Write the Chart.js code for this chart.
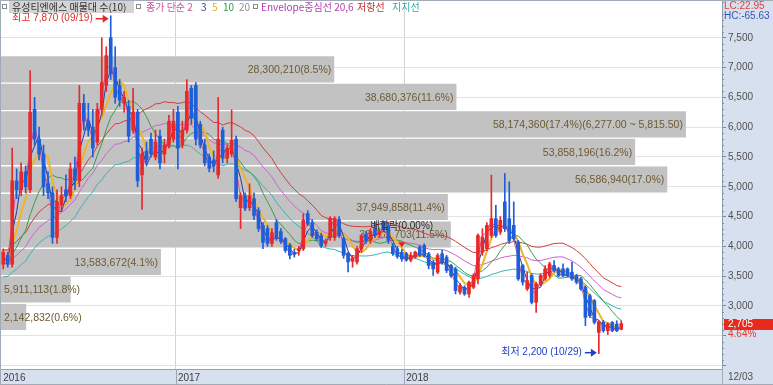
<!DOCTYPE html>
<html><head><meta charset="utf-8">
<script src="https://cdn.jsdelivr.net/npm/chart.js@4.4.1/dist/chart.umd.min.js"></script>
<style>html,body{margin:0;padding:0;background:#fff;overflow:hidden}#wrap{width:773px;height:385px;position:relative}</style>
</head><body><div id="wrap"><canvas id="c" width="773" height="385"></canvas></div>
<script>
// ---------- data ----------
const stockName = '유성티엔에스';
const weekStart = '2016-04-04';
const closedWeeks = ['2017-10-02'];
const slotCount = 161;

const open = [3700,3850,3700,5100,4950,5250,4950,6300,5800,5550,5050,4900,4150,4700,4950,4850,5300,5100,6400,6100,
6000,5750,6300,6700,7500,7000,6700,6400,6350,5950,6250,5200,5600,5800,5500,5850,5550,5700,5800,6250,
5700,5950,6650,6700,6050,5700,5500,5450,5200,5950,5480,5550,5800,4650,4850,4650,4800,4600,4350,4300,
4050,4400,4250,4130,4020,3900,3930,3960,4550,4400,4240,4180,4050,4150,4150,4450,4130,3880,3750,3740,
3960,4200,4100,4300,4200,4400,4350,4000,3960,3900,3880,3770,3820,3990,4016,3876,3735,3567,3876,3820,
3680,3623,3230,3314,3202,3314,3455,3904,3960,4184,4465,4240,4746,4465,4353,4072,3680,3286,3511,3062,
3370,3455,3511,3680,3623,3623,3623,3567,3511,3455,3314,3174,3090,2557,2725,2585,2725,2697,2610];
const high = [3960,3900,5650,5300,5400,5350,6950,6500,6000,5700,5250,5000,4950,5000,5200,5400,5500,6700,6550,6400,
6300,6400,7500,7350,7870,7350,6800,6600,6450,6650,6300,5650,5750,5900,5950,5950,5800,6200,6300,6350,
6100,6800,6700,6750,6100,5800,5550,5600,6500,6000,5700,6290,5850,4900,4900,5050,4900,4650,4400,4350,
4300,4450,4300,4150,4050,3950,4000,4550,4600,4450,4280,4220,4120,4500,4500,4500,4150,3900,3850,4000,
4200,4250,4300,4400,4300,4420,4380,4050,4000,3950,3900,3900,3920,4020,4044,3900,3760,3880,3932,3850,
3700,3650,3380,3340,3420,3540,4210,4297,4400,5195,4690,4500,5223,5083,4746,4100,3700,3567,3540,3400,
3540,3680,3735,3763,3650,3707,3640,3735,3530,3480,3340,3200,3110,2750,2760,2720,2740,2753,2753];
const low = [3620,3650,3650,4800,4850,4900,4900,5700,5450,4850,4800,4050,4050,4600,4750,4800,4950,5000,5950,5850,
5500,5700,6200,6600,6800,6400,6350,6250,5750,5900,5000,4620,5350,5500,5450,5300,5400,5650,5750,5300,
5650,5900,6050,5700,5650,5350,5250,5250,5140,5400,5400,5500,4750,4300,4600,4600,4450,4250,3960,4000,
4000,4100,4050,3900,3790,3820,3850,3930,4350,4150,4100,3980,4000,4100,4100,4150,3800,3570,3650,3700,
3900,4050,4050,4150,4150,4250,4050,3850,3800,3750,3750,3740,3800,3830,3820,3623,3511,3540,3700,3560,
3480,3202,3200,3180,3146,3290,3370,3850,3930,4150,4150,4200,4250,4050,4100,3430,3350,3260,3034,2893,
3340,3430,3480,3570,3490,3490,3490,3430,3370,3260,2669,2810,2697,2200,2560,2520,2570,2570,2600];
const close = [3900,3700,5100,4950,5250,5000,6250,5800,5550,5000,4900,4150,4750,4850,4850,5300,5100,6400,6100,5950,
5650,6300,6750,7200,6900,6500,6450,6500,5850,6250,5100,5550,5450,5550,5750,5400,5700,6100,6100,5650,
5950,6600,6150,5800,5700,5400,5310,5350,5800,5480,5650,5780,4800,4850,4640,4850,4520,4300,4070,4050,
4230,4130,4080,3930,3850,3870,3960,4440,4380,4180,4130,4010,4090,4470,4470,4180,3850,3740,3800,3960,
4180,4100,4250,4200,4250,4300,4100,3880,3830,3790,3770,3850,3904,3850,3848,3679,3623,3848,3735,3595,
3511,3258,3340,3202,3400,3511,4184,4156,4353,4465,4184,4437,4297,4100,4128,3455,3400,3427,3062,3370,
3511,3623,3707,3595,3511,3511,3511,3455,3400,3286,2809,2837,2725,2725,2585,2697,2585,2585,2705];
// estimated closes before the first visible week (implied by the starting level of the averages)
const priorCloses = [3600,3650,3700,3750,3700,3650,3700,3750,3800,3750,3700,3650,3700,3750,3700,3650,3700,3750,3700];

// volume profile (매물대), 10 price bands
const profileVolume = [28300210,38680376,58174360,53858196,56586940,37949858,38205703,13583672,5911113,2142832];
const profileHigh = [7200,6738.5,6277,5815.5,5354,4892.5,4431,3969.5,3508,3046.5];
const profileLow  = [6738.5,6277,5815.5,5354,4892.5,4431,3969.5,3508,3046.5,2585];

const maPeriods = [2,3,5,10];
const envelopePeriod = 20;
const envelopePct = 6;
const dividendWeek = '2017-12-25';
const dividendRate = 0.00;
const gridPrices = [2000,2500,3000,3500,4000,4500,5000,5500,6000,6500,7000,7500];
const labelPrices = [3000,3500,4000,4500,5000,5500,6000,6500,7000,7500];
const lcValue = 22.95, hcValue = -65.63;

// ---------- helpers ----------
const fmtInt = v => String(Math.round(v)).replace(/\B(?=(\d{3})+(?!\d))/g, ',');
const fmtDec = (v, d) => { const s = v.toFixed(d).split('.'); return fmtInt(+s[0]) + '.' + s[1]; };

function buildWeekLabels() {
  const out = [];
  let t = new Date(weekStart + 'T00:00:00Z').getTime();
  while (out.length < open.length) {
    const iso = new Date(t).toISOString().slice(0, 10);
    if (!closedWeeks.includes(iso)) out.push(iso);
    t += 7 * 86400000;
  }
  while (out.length < slotCount) out.push('');
  return out;
}
const weekLabels = buildWeekLabels();
const mmdd = s => s.slice(5, 7) + '/' + s.slice(8, 10);
const isYearStart = i => weekLabels[i] && (i === 0 || (weekLabels[i - 1] && weekLabels[i].slice(0, 4) !== weekLabels[i - 1].slice(0, 4)));

function sma(n) {
  const all = priorCloses.concat(close);
  return close.map((_, i) => {
    const end = priorCloses.length + i;
    let s = 0;
    for (let k = end - n + 1; k <= end; k++) s += all[k];
    return s / n;
  });
}
const env = sma(envelopePeriod);
const envUp = env.map(v => v * (1 + envelopePct / 100));
const envDn = env.map(v => v * (1 - envelopePct / 100));

const UP = '#e8282a', DOWN = '#1f5ed8';
const candleColors = close.map((c, i) => c >= open[i] ? UP : DOWN);
const maColors = {2: '#e0509a', 3: '#2a3a9a', 5: '#f0b428', 10: '#38a048'};
const FONT = "'Liberation Sans', 'Noto Sans CJK KR', sans-serif";
const KFONT = "'Noto Sans CJK KR', 'Liberation Sans', sans-serif";

const volTotal = profileVolume.reduce((a, b) => a + b, 0);
const volMax = Math.max(...profileVolume);

// ---------- datasets ----------
const datasets = [];
datasets.push({
  type: 'bar', label: 'profile', indexAxis: 'y', xAxisID: 'xv', yAxisID: 'yv',
  data: profileVolume.map((v, k) => ({x: v, y: (profileHigh[k] + profileLow[k]) / 2})),
  backgroundColor: '#c2c2c2', borderWidth: 0, barPercentage: 0.95, categoryPercentage: 1, grouped: false, order: 30
});
datasets.push({type: 'line', label: 'envUp', data: envUp, borderColor: '#d23c3c', borderWidth: 1, pointRadius: 0, order: 12, xAxisID: 'x', yAxisID: 'y'});
datasets.push({type: 'line', label: 'envMid', data: env, borderColor: '#d060d8', borderWidth: 1, pointRadius: 0, order: 12, xAxisID: 'x', yAxisID: 'y'});
datasets.push({type: 'line', label: 'envDn', data: envDn, borderColor: '#38b4b4', borderWidth: 1, pointRadius: 0, order: 12, xAxisID: 'x', yAxisID: 'y'});
[10, 5, 3, 2].forEach((p, k) => {
  datasets.push({type: 'line', label: 'MA' + p, data: sma(p), borderColor: maColors[p], borderWidth: p === 5 ? 2 : 1,
    pointRadius: 0, order: 10 - k, xAxisID: 'x', yAxisID: 'y'});
});
datasets.push({type: 'bar', label: 'wick', data: low.map((l, i) => [l, high[i]]), backgroundColor: candleColors,
  barThickness: 1, grouped: false, order: 3, xAxisID: 'x', yAxisID: 'y'});
datasets.push({type: 'bar', label: 'body', data: open.map((o, i) => [o, close[i]]), backgroundColor: candleColors,
  barThickness: 3, minBarLength: 1, grouped: false, order: 2, xAxisID: 'x', yAxisID: 'y'});

// ---------- plugin ----------
function arrow(ctx, x1, x2, y, color) {
  ctx.strokeStyle = color; ctx.fillStyle = color; ctx.lineWidth = 1.5;
  ctx.beginPath(); ctx.moveTo(x1, y); ctx.lineTo(x2 - 4, y); ctx.stroke();
  ctx.beginPath(); ctx.moveTo(x2, y); ctx.lineTo(x2 - 6, y - 4); ctx.lineTo(x2 - 6, y + 4); ctx.closePath(); ctx.fill();
}

const deco = {
  id: 'deco',
  beforeDraw(chart) {
    const ctx = chart.ctx, a = chart.chartArea;
    ctx.save();
    ctx.fillStyle = '#ffffff'; ctx.fillRect(0, 0, 773, 385);
    ctx.fillStyle = '#d6e0ee';
    ctx.fillRect(a.right, 0, 773 - a.right, 385);
    ctx.fillRect(0, a.bottom, 773, 385 - a.bottom);
    ctx.restore();
  },
  afterDatasetDraw(chart, args) {
    if (args.index !== 0) return;
    const ctx = chart.ctx;
    const meta = chart.getDatasetMeta(0);
    ctx.save();
    ctx.font = '10.5px ' + FONT; ctx.fillStyle = '#6e5a32'; ctx.textBaseline = 'middle';
    meta.data.forEach((bar, k) => {
      let t = fmtInt(profileVolume[k]) + '(' + (profileVolume[k] / volTotal * 100).toFixed(1) + '%)';
      if (profileVolume[k] === volMax) t += '(' + fmtDec(profileHigh[k], 2) + ' ~ ' + fmtDec(profileLow[k], 2) + ')';
      const w = ctx.measureText(t).width;
      const left = Math.min(bar.x, bar.base), right = Math.max(bar.x, bar.base);
      if (w + 6 <= right - left) { ctx.textAlign = 'right'; ctx.fillText(t, right - 3, bar.y + 1); }
      else { ctx.textAlign = 'left'; ctx.fillText(t, left + 3, bar.y + 1); }
    });
    ctx.restore();
  },
  afterDatasetsDraw(chart) {
    const ctx = chart.ctx, xs = chart.scales.x, ys = chart.scales.y;
    ctx.save();
    ctx.textBaseline = 'middle';
    const hi = Math.max(...high), lo = Math.min(...low);
    const iH = high.indexOf(hi), iL = low.indexOf(lo);
    const xh = xs.getPixelForValue(iH), yh = ys.getPixelForValue(hi) + 3;
    arrow(ctx, xh - 15, xh - 2, yh, '#e02a2a');
    ctx.font = '10px ' + FONT; ctx.fillStyle = '#e02a2a'; ctx.textAlign = 'right';
    ctx.fillText('최고 ' + fmtInt(hi) + ' (' + mmdd(weekLabels[iH]) + ')', xh - 18, yh);
    const xl = xs.getPixelForValue(iL), yl = ys.getPixelForValue(lo) - 1;
    arrow(ctx, xl - 14, xl - 2, yl, '#2040c8');
    ctx.fillStyle = '#2040c8';
    ctx.fillText('최저 ' + fmtInt(lo) + ' (' + mmdd(weekLabels[iL]) + ')', xl - 17, yl);
    const iD = weekLabels.indexOf(dividendWeek);
    if (iD >= 0) {
      const xd = xs.getPixelForValue(iD), yd = ys.getPixelForValue(high[iD]) - 2;
      ctx.fillStyle = '#e02020';
      ctx.beginPath(); ctx.moveTo(xd, yd); ctx.lineTo(xd - 3.5, yd - 5); ctx.lineTo(xd + 3.5, yd - 5); ctx.closePath(); ctx.fill();
      ctx.fillStyle = '#2a2a2a'; ctx.textAlign = 'center'; ctx.font = '10px ' + FONT;
      ctx.fillText('배합락(' + dividendRate.toFixed(2) + '%)', xd, yd - 21);
    }
    ctx.restore();
  },
  afterDraw(chart) {
    const ctx = chart.ctx, a = chart.chartArea, xs = chart.scales.x, ys = chart.scales.y;
    ctx.save();
    ctx.strokeStyle = '#8090a8'; ctx.lineWidth = 1;
    for (let v = 2000; v <= 8100; v += 100) {
      if (v % 500 === 0) continue;
      const y = Math.round(ys.getPixelForValue(v)) + 0.5;
      ctx.beginPath(); ctx.moveTo(a.right, y); ctx.lineTo(a.right + 2, y); ctx.stroke();
    }
    ctx.strokeStyle = '#a2aab6';
    ctx.beginPath(); ctx.moveTo(0, 0.5); ctx.lineTo(773, 0.5); ctx.stroke();
    ctx.beginPath(); ctx.moveTo(0.5, 0); ctx.lineTo(0.5, 385); ctx.stroke();
    ctx.beginPath(); ctx.moveTo(0, 384.5); ctx.lineTo(773, 384.5); ctx.stroke();
    ctx.beginPath(); ctx.moveTo(a.right + 0.5, a.bottom); ctx.lineTo(a.right + 0.5, 385); ctx.stroke();
    const half = (xs.getPixelForValue(1) - xs.getPixelForValue(0)) / 2;
    ctx.strokeStyle = '#9aa6b8';
    for (let i = 1; i < weekLabels.length; i++) {
      if (!isYearStart(i)) continue;
      const x = Math.round(xs.getPixelForValue(i) - half) + 0.5;
      ctx.beginPath(); ctx.moveTo(x, a.bottom); ctx.lineTo(x, 385); ctx.stroke();
    }
    ctx.font = '10px ' + FONT; ctx.fillStyle = '#505050'; ctx.textBaseline = 'middle'; ctx.textAlign = 'left';
    ctx.fillText(mmdd(weekLabels[open.length - 1]), a.right + 6, 377);
    ctx.fillStyle = '#e04040'; ctx.fillText('LC:' + lcValue.toFixed(2), a.right + 2, 6);
    ctx.fillStyle = '#3355bb'; ctx.fillText('HC:' + hcValue.toFixed(2), a.right + 2, 16);
    const last = close[close.length - 1], prev = close[close.length - 2];
    const yc = ys.getPixelForValue(last);
    ctx.fillStyle = '#e8291c'; ctx.fillRect(a.right + 2, Math.round(yc) - 5, 773 - a.right - 2, 11);
    ctx.fillStyle = '#ffffff'; ctx.fillText(fmtInt(last), a.right + 6, Math.round(yc) + 0.5);
    ctx.fillStyle = '#e03a30'; ctx.fillText(((last / prev - 1) * 100).toFixed(2) + '%', a.right + 6, Math.round(yc) + 10.5);
    const sq = x => { ctx.fillStyle = '#ffffff'; ctx.fillRect(x, 4, 5, 5); ctx.strokeStyle = '#8a8a8a'; ctx.strokeRect(x + 0.5, 4.5, 4, 4); };
    ctx.fillStyle = '#d4d4d4'; ctx.fillRect(9, 1, 125, 12);
    sq(2); sq(136); sq(253);
    ctx.font = '10px ' + KFONT; ctx.textBaseline = 'middle';
    const pieces = [
      [stockName + ' 매물대 수(' + profileVolume.length + ')', 12, '#303030'],
      ['종가 단순 ' + maPeriods[0], 146, '#d0509a'],
      [String(maPeriods[1]), 201, '#3a3a9a'],
      [String(maPeriods[2]), 212, '#e0b020'],
      [String(maPeriods[3]), 223, '#30a040'],
      [String(envelopePeriod), 239, '#909090'],
      ['Envelope중심선 ' + envelopePeriod + ',' + envelopePct, 261, '#b040b0'],
      ['저항선', 357, '#c03030'],
      ['지지선', 392, '#30a8a8']
    ];
    pieces.forEach(([t, x, c]) => { ctx.fillStyle = c; ctx.fillText(t, x, 7); });
    ctx.restore();
  }
};

const zeroPad = s => { s.paddingTop = 0; s.paddingBottom = 0; s.paddingLeft = 0; s.paddingRight = 0; };
const yMin = 1943, yMax = 8117;
new Chart(document.getElementById('c'), {
  type: 'bar',
  data: {labels: weekLabels, datasets},
  options: {
    responsive: false, animation: false, devicePixelRatio: 1,
    layout: {padding: {left: 1, top: 1, right: 0, bottom: 0}},
    plugins: {legend: {display: false}, tooltip: {enabled: false}, title: {display: false}},
    elements: {line: {tension: 0}},
    scales: {
      x: {
        type: 'category', offset: true,
        grid: {offset: true, drawTicks: false,
          color: c => (c.index > 0 && isYearStart(c.index)) ? '#d4d4d4' : 'rgba(0,0,0,0)'},
        border: {display: true, color: '#96a2b2'},
        ticks: {autoSkip: false, maxRotation: 0, minRotation: 0, align: 'start', padding: 3,
          color: '#404040', font: {size: 10, family: FONT},
          callback: (v, i) => isYearStart(i) ? weekLabels[i].slice(0, 4) : ''},
        afterFit: s => { s.height = 16; zeroPad(s); }
      },
      y: {
        type: 'linear', position: 'right', min: yMin, max: yMax, offset: false,
        afterBuildTicks: s => { s.ticks = gridPrices.map(value => ({value})); },
        grid: {color: '#e2e2e2', tickLength: 4, tickColor: '#7a8aa0', offset: false},
        border: {display: true, color: '#8c9cb0'},
        ticks: {padding: 2, color: '#505050', font: {size: 10, family: FONT},
          callback: v => labelPrices.includes(v) ? fmtInt(v) : ''},
        afterFit: s => { s.width = 51; zeroPad(s); }
      },
      xv: {type: 'linear', axis: 'x', display: false, min: 0, max: volMax / 0.95, offset: false, grid: {offset: false}},
      yv: {type: 'linear', axis: 'y', display: false, min: yMin, max: yMax, offset: false, grid: {offset: false}}
    }
  },
  plugins: [deco]
});
</script></body></html>
